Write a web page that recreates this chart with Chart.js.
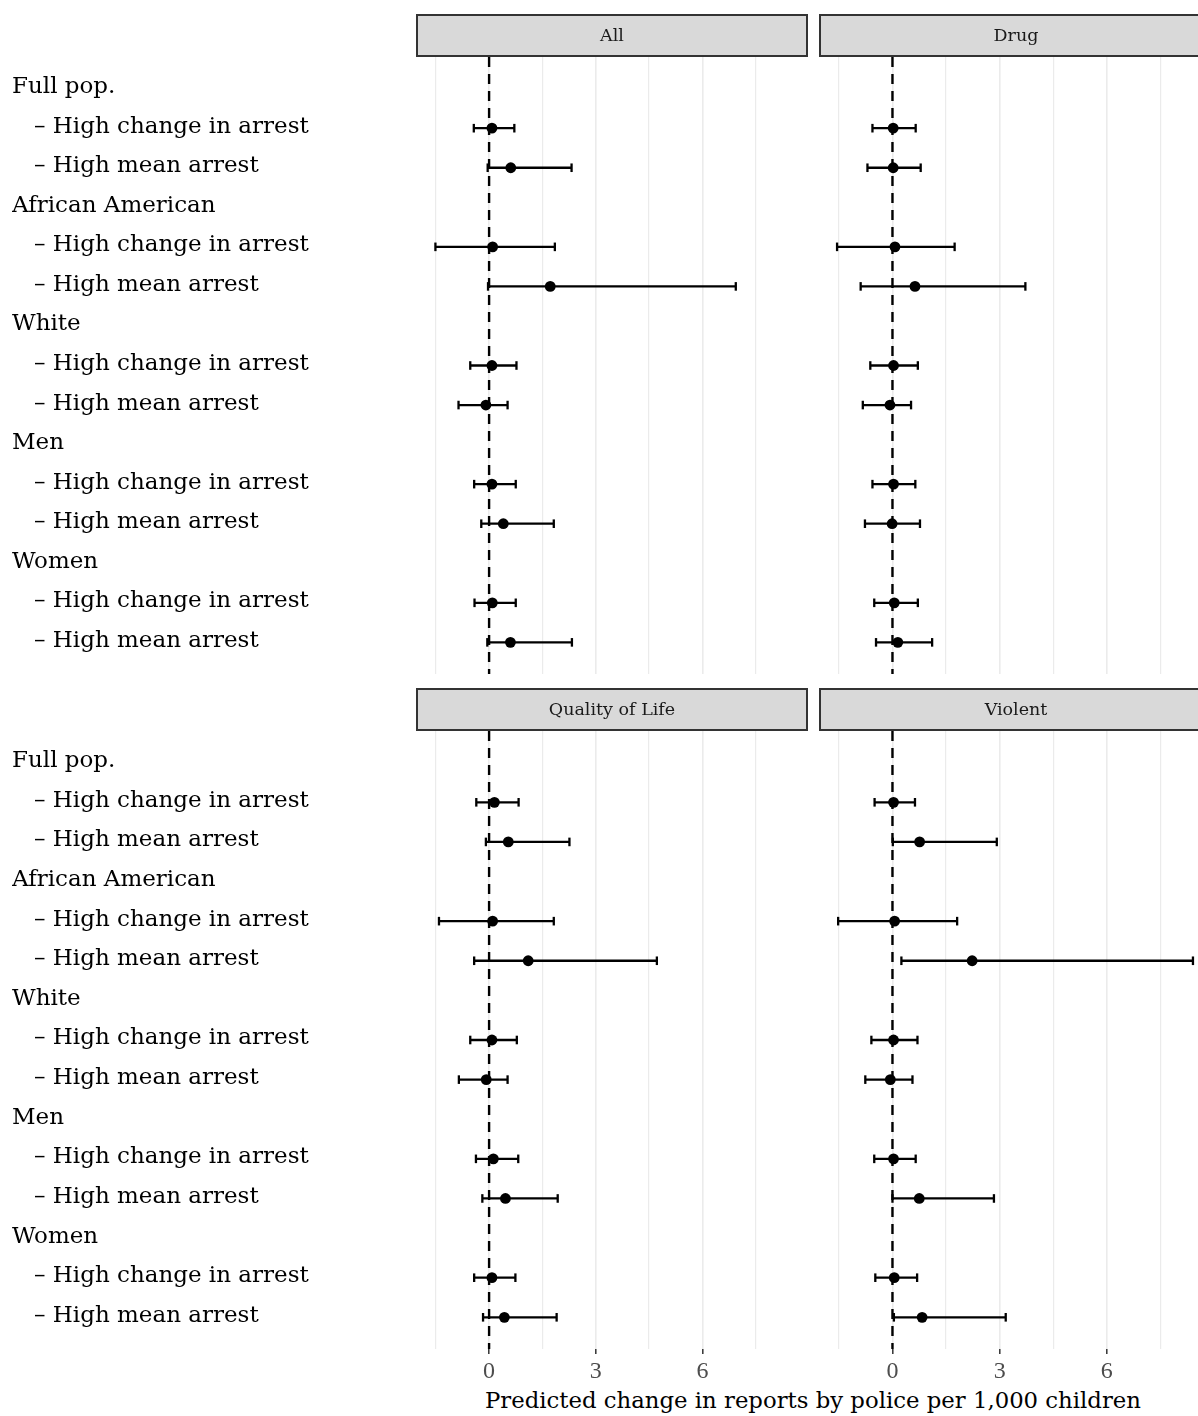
<!DOCTYPE html>
<html>
<head>
<meta charset="utf-8">
<script src="https://cdn.jsdelivr.net/npm/chart.js@4.4.1/dist/chart.umd.min.js"></script>
<style>
  html, body { margin: 0; padding: 0; background: #fff; overflow: hidden; }
  #wrap { position: relative; width: 1198px; height: 1416px; overflow: hidden; background: #fff; }
  #wrap canvas { position: absolute; }
  #xtitle {
    position: absolute; left: 813px; top: 1389px;
    font-family: 'DejaVu Serif', serif; font-size: 23px; line-height: 23px;
    color: #000; white-space: nowrap;
    transform-origin: 0 0;
  }
</style>
</head>
<body>
<div id="wrap">
  <canvas id="p0" width="808" height="674" style="left:0px;top:0px"></canvas>
  <canvas id="p1" width="392" height="674" style="left:819px;top:0px"></canvas>
  <canvas id="p2" width="808" height="711" style="left:0px;top:674px"></canvas>
  <canvas id="p3" width="392" height="711" style="left:819px;top:674px"></canvas>
  <div id="xtitle">Predicted change in reports by police per 1,000 children</div>
</div>
<script>
// Facet names, in drawing order (top-left, top-right, bottom-left, bottom-right)
const PANELS = ['All', 'Drug', 'Quality of Life', 'Violent'];

// Row structure: each group header is followed by its two subgroup rows
const GROUPS = ['Full pop.', 'African American', 'White', 'Men', 'Women'];
const SUBGROUPS = ['High change in arrest', 'High mean arrest'];

// Estimates and 95% interval bounds, one entry per subgroup row:
// Full pop. (change, mean), African American (change, mean), White (...), Men (...), Women (...)
const ALL_EST = [0.08, 0.61, 0.10, 1.72, 0.08, -0.09, 0.08, 0.40, 0.09, 0.60];
const ALL_LO  = [-0.43, -0.04, -1.51, -0.03, -0.53, -0.86, -0.42, -0.22, -0.41, -0.05];
const ALL_HI  = [0.71, 2.32, 1.85, 6.94, 0.77, 0.52, 0.75, 1.82, 0.75, 2.33];

const DRUG_EST = [0.02, 0.02, 0.07, 0.63, 0.03, -0.07, 0.03, -0.01, 0.05, 0.15];
const DRUG_LO  = [-0.56, -0.70, -1.55, -0.89, -0.62, -0.83, -0.56, -0.77, -0.51, -0.46];
const DRUG_HI  = [0.65, 0.79, 1.74, 3.72, 0.71, 0.52, 0.64, 0.77, 0.71, 1.11];

const QOL_EST = [0.15, 0.54, 0.10, 1.10, 0.08, -0.08, 0.12, 0.46, 0.08, 0.43];
const QOL_LO  = [-0.36, -0.09, -1.41, -0.42, -0.53, -0.85, -0.37, -0.19, -0.42, -0.17];
const QOL_HI  = [0.83, 2.26, 1.82, 4.72, 0.78, 0.52, 0.82, 1.93, 0.74, 1.90];

const VIOL_EST = [0.03, 0.76, 0.06, 2.23, 0.03, -0.06, 0.03, 0.75, 0.05, 0.83];
const VIOL_LO  = [-0.50, 0.01, -1.52, 0.25, -0.59, -0.76, -0.51, 0.00, -0.48, 0.04];
const VIOL_HI  = [0.63, 2.92, 1.81, 8.41, 0.70, 0.56, 0.65, 2.84, 0.69, 3.17];

const SERIES = [
  { est: ALL_EST,  lo: ALL_LO,  hi: ALL_HI },
  { est: DRUG_EST, lo: DRUG_LO, hi: DRUG_HI },
  { est: QOL_EST,  lo: QOL_LO,  hi: QOL_HI },
  { est: VIOL_EST, lo: VIOL_LO, hi: VIOL_HI }
];

// x axis: labelled ticks and the full set of vertical grid positions
const TICK_LABELS = [0, 3, 6];
const GRID_VALUES = [-1.5, 0, 1.5, 3, 4.5, 6, 7.5];

// y-axis labels, one per row (headers flush left, subgroups indented)
const ROW_LABELS = [];
GROUPS.forEach(g => {
  ROW_LABELS.push(g);
  SUBGROUPS.forEach(s => ROW_LABELS.push('   \u2013 ' + s));
});

const X_MIN = -2.0, X_MAX = 8.915;
const Y_MIN = 0.2, Y_MAX = ROW_LABELS.length + 0.8;
const SERIF = "'DejaVu Serif', 'Liberation Serif', serif";

// row number (1-based) of the k-th subgroup entry
function rowOf(k) { return Math.floor(k / SUBGROUPS.length) * (SUBGROUPS.length + 1) + 2 + (k % SUBGROUPS.length); }

// grey facet strip with the panel name above the plotting area
const stripPlugin = {
  id: 'strip',
  afterDraw(chart, args, opts) {
    const { ctx, chartArea: a } = chart;
    ctx.save();
    ctx.fillStyle = '#d9d9d9';
    ctx.fillRect(a.left - 1, a.top - 42, a.right - a.left + 2, 41);
    ctx.strokeStyle = '#333333';
    ctx.lineWidth = 2;
    ctx.strokeRect(a.left - 1, a.top - 42, a.right - a.left + 2, 41);
    ctx.fillStyle = '#1a1a1a';
    ctx.font = '17.5px ' + SERIF;
    ctx.textAlign = 'center';
    ctx.textBaseline = 'middle';
    ctx.fillText(opts.text, (a.left + a.right) / 2, a.top - 21);
    ctx.restore();
  }
};

function makePanel(canvasId, idx, showY, showX) {
  const s = SERIES[idx];
  const datasets = [];

  // point estimates
  datasets.push({
    data: s.est.map((v, k) => ({ x: v, y: rowOf(k) })),
    showLine: false,
    pointRadius: 5.4,
    pointBorderWidth: 0,
    pointBackgroundColor: '#000',
    pointBorderColor: '#000'
  });

  // interval whiskers with end caps
  s.lo.forEach((lo, k) => {
    datasets.push({
      data: [{ x: lo, y: rowOf(k) }, { x: s.hi[k], y: rowOf(k) }],
      showLine: true,
      borderColor: '#000',
      borderWidth: 2.3,
      pointStyle: 'line',
      pointRotation: 90,
      pointRadius: 4.3,
      pointBorderWidth: 2.3,
      pointBorderColor: '#000',
      pointBackgroundColor: '#000'
    });
  });

  // dashed reference line at zero
  datasets.push({
    data: [{ x: 0, y: Y_MIN }, { x: 0, y: Y_MAX }],
    showLine: true,
    borderColor: '#000',
    borderWidth: 2.4,
    borderDash: [10, 7],
    pointRadius: 0
  });

  return new Chart(document.getElementById(canvasId), {
    type: 'scatter',
    data: { datasets },
    options: {
      responsive: false,
      animation: false,
      events: [],
      layout: {
        autoPadding: false,
        padding: { left: showY ? 12 : 2, top: 57, right: showY ? 2 : 0, bottom: 0 }
      },
      plugins: {
        legend: { display: false },
        tooltip: { enabled: false },
        strip: { text: PANELS[idx] }
      },
      scales: {
        x: {
          type: 'linear',
          min: X_MIN,
          max: X_MAX,
          afterBuildTicks: sc => { sc.ticks = GRID_VALUES.map(v => ({ value: v })); },
          afterFit: sc => { sc.height = showX ? 36 : 0; sc.paddingLeft = 0; sc.paddingRight = 0; },
          border: { display: false },
          grid: {
            color: '#ebebeb',
            lineWidth: c => (TICK_LABELS.includes(c.tick && c.tick.value) ? 1.6 : 1.2),
            drawTicks: showX,
            tickLength: 5,
            tickWidth: 1.5,
            tickColor: c => (TICK_LABELS.includes(c.tick && c.tick.value) ? '#333333' : 'rgba(0,0,0,0)')
          },
          ticks: {
            display: showX,
            autoSkip: false,
            maxRotation: 0,
            padding: 3,
            color: '#4d4d4d',
            font: { family: "'Liberation Serif', serif", size: 24 },
            callback: v => (TICK_LABELS.includes(v) ? String(v) : '')
          }
        },
        y: {
          type: 'linear',
          reverse: true,
          min: Y_MIN,
          max: Y_MAX,
          display: showY,
          afterBuildTicks: sc => { sc.ticks = ROW_LABELS.map((_, i) => ({ value: i + 1 })); },
          afterFit: sc => { sc.width = showY ? 406 : 0; sc.paddingTop = 0; sc.paddingBottom = 0; },
          border: { display: false },
          grid: { display: false, drawTicks: false },
          ticks: {
            autoSkip: false,
            crossAlign: 'far',
            padding: 0,
            labelOffset: -1.5,
            color: '#000',
            font: { family: SERIF, size: 23 },
            callback: v => ROW_LABELS[Math.round(v) - 1]
          }
        }
      }
    },
    plugins: [stripPlugin]
  });
}

makePanel('p0', 0, true, false);
makePanel('p1', 1, false, false);
makePanel('p2', 2, true, true);
makePanel('p3', 3, false, true);

// fit the shared axis title to the span used beneath both columns
const xt = document.getElementById('xtitle');
const w = xt.getBoundingClientRect().width;
const sx = 656 / w;
xt.style.transform = 'scaleX(' + sx + ') translateX(-50%)';
</script>
</body>
</html>
